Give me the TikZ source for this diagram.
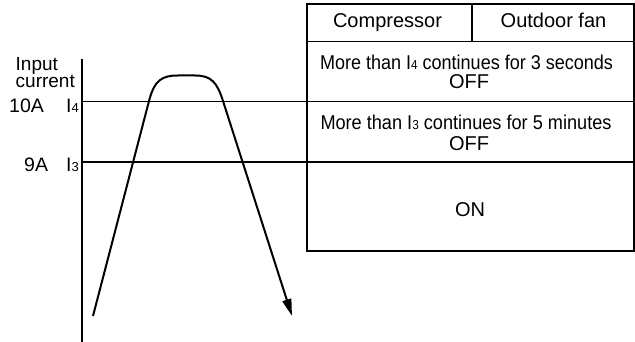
\documentclass[tikz,border=0pt]{standalone}
\usepackage{fontspec}
\setmainfont{Liberation Sans}
\usetikzlibrary{arrows.meta}
\newcommand{\subdig}[1]{{\fontsize{13}{13}\selectfont #1}}
\begin{document}
\begin{tikzpicture}[x=1pt,y=-1pt,
  rule/.style={line width=1.2pt},
  curveline/.style={line width=2pt},
  txt/.style={font=\fontsize{20}{20}\selectfont, inner sep=0pt, anchor=base},
  lbl/.style={font=\fontsize{19.5}{16}\selectfont, inner sep=0pt, anchor=base west},
]
\useasboundingbox (0,0) rectangle (635,342);
% axis and current levels
\coordinate (axtop) at (82,59);
\coordinate (axbot) at (82,342);
\draw[rule] (axtop) -- (axbot);
\coordinate (i4l) at (82,101.7);
\coordinate (i4r) at (634,101.7);
\coordinate (i3l) at (82,162);
\coordinate (i3r) at (634,162);
\draw[rule] (i4l) -- (i4r);
\draw[rule] (i3l) -- (i3r);
% table
\coordinate (tnw) at (307,4);
\coordinate (tse) at (634,251);
\draw[rule] (tnw) rectangle (tse);
\coordinate (hl) at (307,41.7);
\coordinate (hr) at (634,41.7);
\draw[rule] (hl) -- (hr);
\coordinate (dt) at (472,4);
\coordinate (db) at (472,41.7);
\draw[rule] (dt) -- (db);
% table texts
\node[txt] (comp) at (387.5,28) {Compressor};
\node[txt] (fan) at (553.5,28) {Outdoor fan};
\node[txt] (r1a) at (466.5,69.5) {\resizebox{293pt}{\height}{More than I\subdig{4} continues for 3 seconds}};
\node[txt] (r1b) at (469,89) {OFF};
\node[txt] (r2a) at (466,130) {\resizebox{291pt}{\height}{More than I\subdig{3} continues for 5 minutes}};
\node[txt] (r2b) at (469,151) {OFF};
\node[txt] (r3) at (470,217) {ON};
% axis labels
\node[font=\fontsize{19}{16}\selectfont, inner sep=0pt, anchor=north west, align=left] (inp) at (15.5,57) {Input\\current};
\node[lbl] (ten) at (9,113) {10A};
\node[lbl] (li4) at (66,113) {I\subdig{4}};
\node[lbl] (nine) at (24,172) {9A};
\node[lbl] (li3) at (66,172) {I\subdig{3}};
% current curve
\coordinate (cs) at (93,316);
\coordinate (ce) at (292,316);
\draw[curveline, -{Triangle[length=17pt,width=9pt]}] (cs) -- (149,101)
  .. controls (154.5,80) and (162,75.5) .. (178,75.5) -- (195,75.5)
  .. controls (211,75.5) and (217,82) .. (223,101) -- (ce);
\end{tikzpicture}
\end{document}
